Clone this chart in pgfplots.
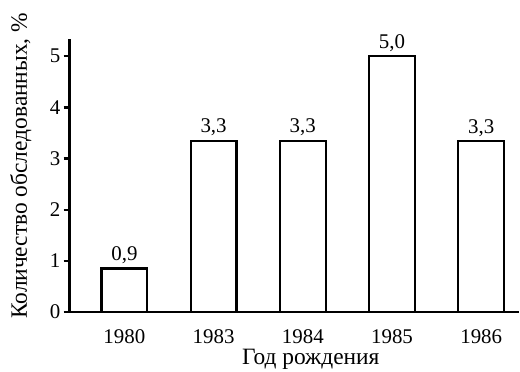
\documentclass[border=0pt]{standalone}
\usepackage{fontspec}
\setmainfont{Liberation Serif}
\usepackage{pgfplots}
\usepackage{pgfplotstable}
\pgfplotsset{compat=1.18}
\pgfplotstableread{
x y lab
0 0.85 0,9
1 3.35 3,3
2 3.35 3,3
3 5.00 5,0
4 3.34 3,3
}\data
\begin{document}
\begin{tikzpicture}
\begin{axis}[
  scale only axis, width=451pt, height=274pt,
  xmin=-0.613, xmax=4.42, ymin=0, ymax=5.33,
  axis lines=left,
  axis line style={-, line width=2.6pt, black},
  ytick={0,1,2,3,4,5},
  xtick={0,1,2,3,4},
  xticklabels={1980,1983,1984,1985,1986},
  tick align=outside,
  major tick length=6pt,
  ytick style={line width=2.4pt, black},
  xtick style={draw=none},
  /pgf/number format/assume math mode=true,
  ticklabel style={font=\fontsize{21}{21}\selectfont},
  xticklabel style={yshift=-8pt},
  label style={font=\fontsize{23.5}{24}\selectfont},
  ylabel={Количество обследованных, \%},
  xlabel={Год рождения},
  ylabel style={at={(axis description cs:-0.0953,0.536)}, anchor=base,
    inner xsep=13pt, text height=23.7pt},
  xlabel style={at={(axis description cs:0.537,-0.193)}, anchor=base,
    inner ysep=2pt},
  clip=false,
]
\addplot[ybar, bar width=46pt, fill=white, draw=black, line width=2.3pt,
  point meta=explicit symbolic,
  nodes near coords,
  nodes near coords style={font=\fontsize{21}{21}\selectfont, black}]
  table[x=x, y=y, meta=lab] {\data};
\end{axis}
\end{tikzpicture}
\end{document}
